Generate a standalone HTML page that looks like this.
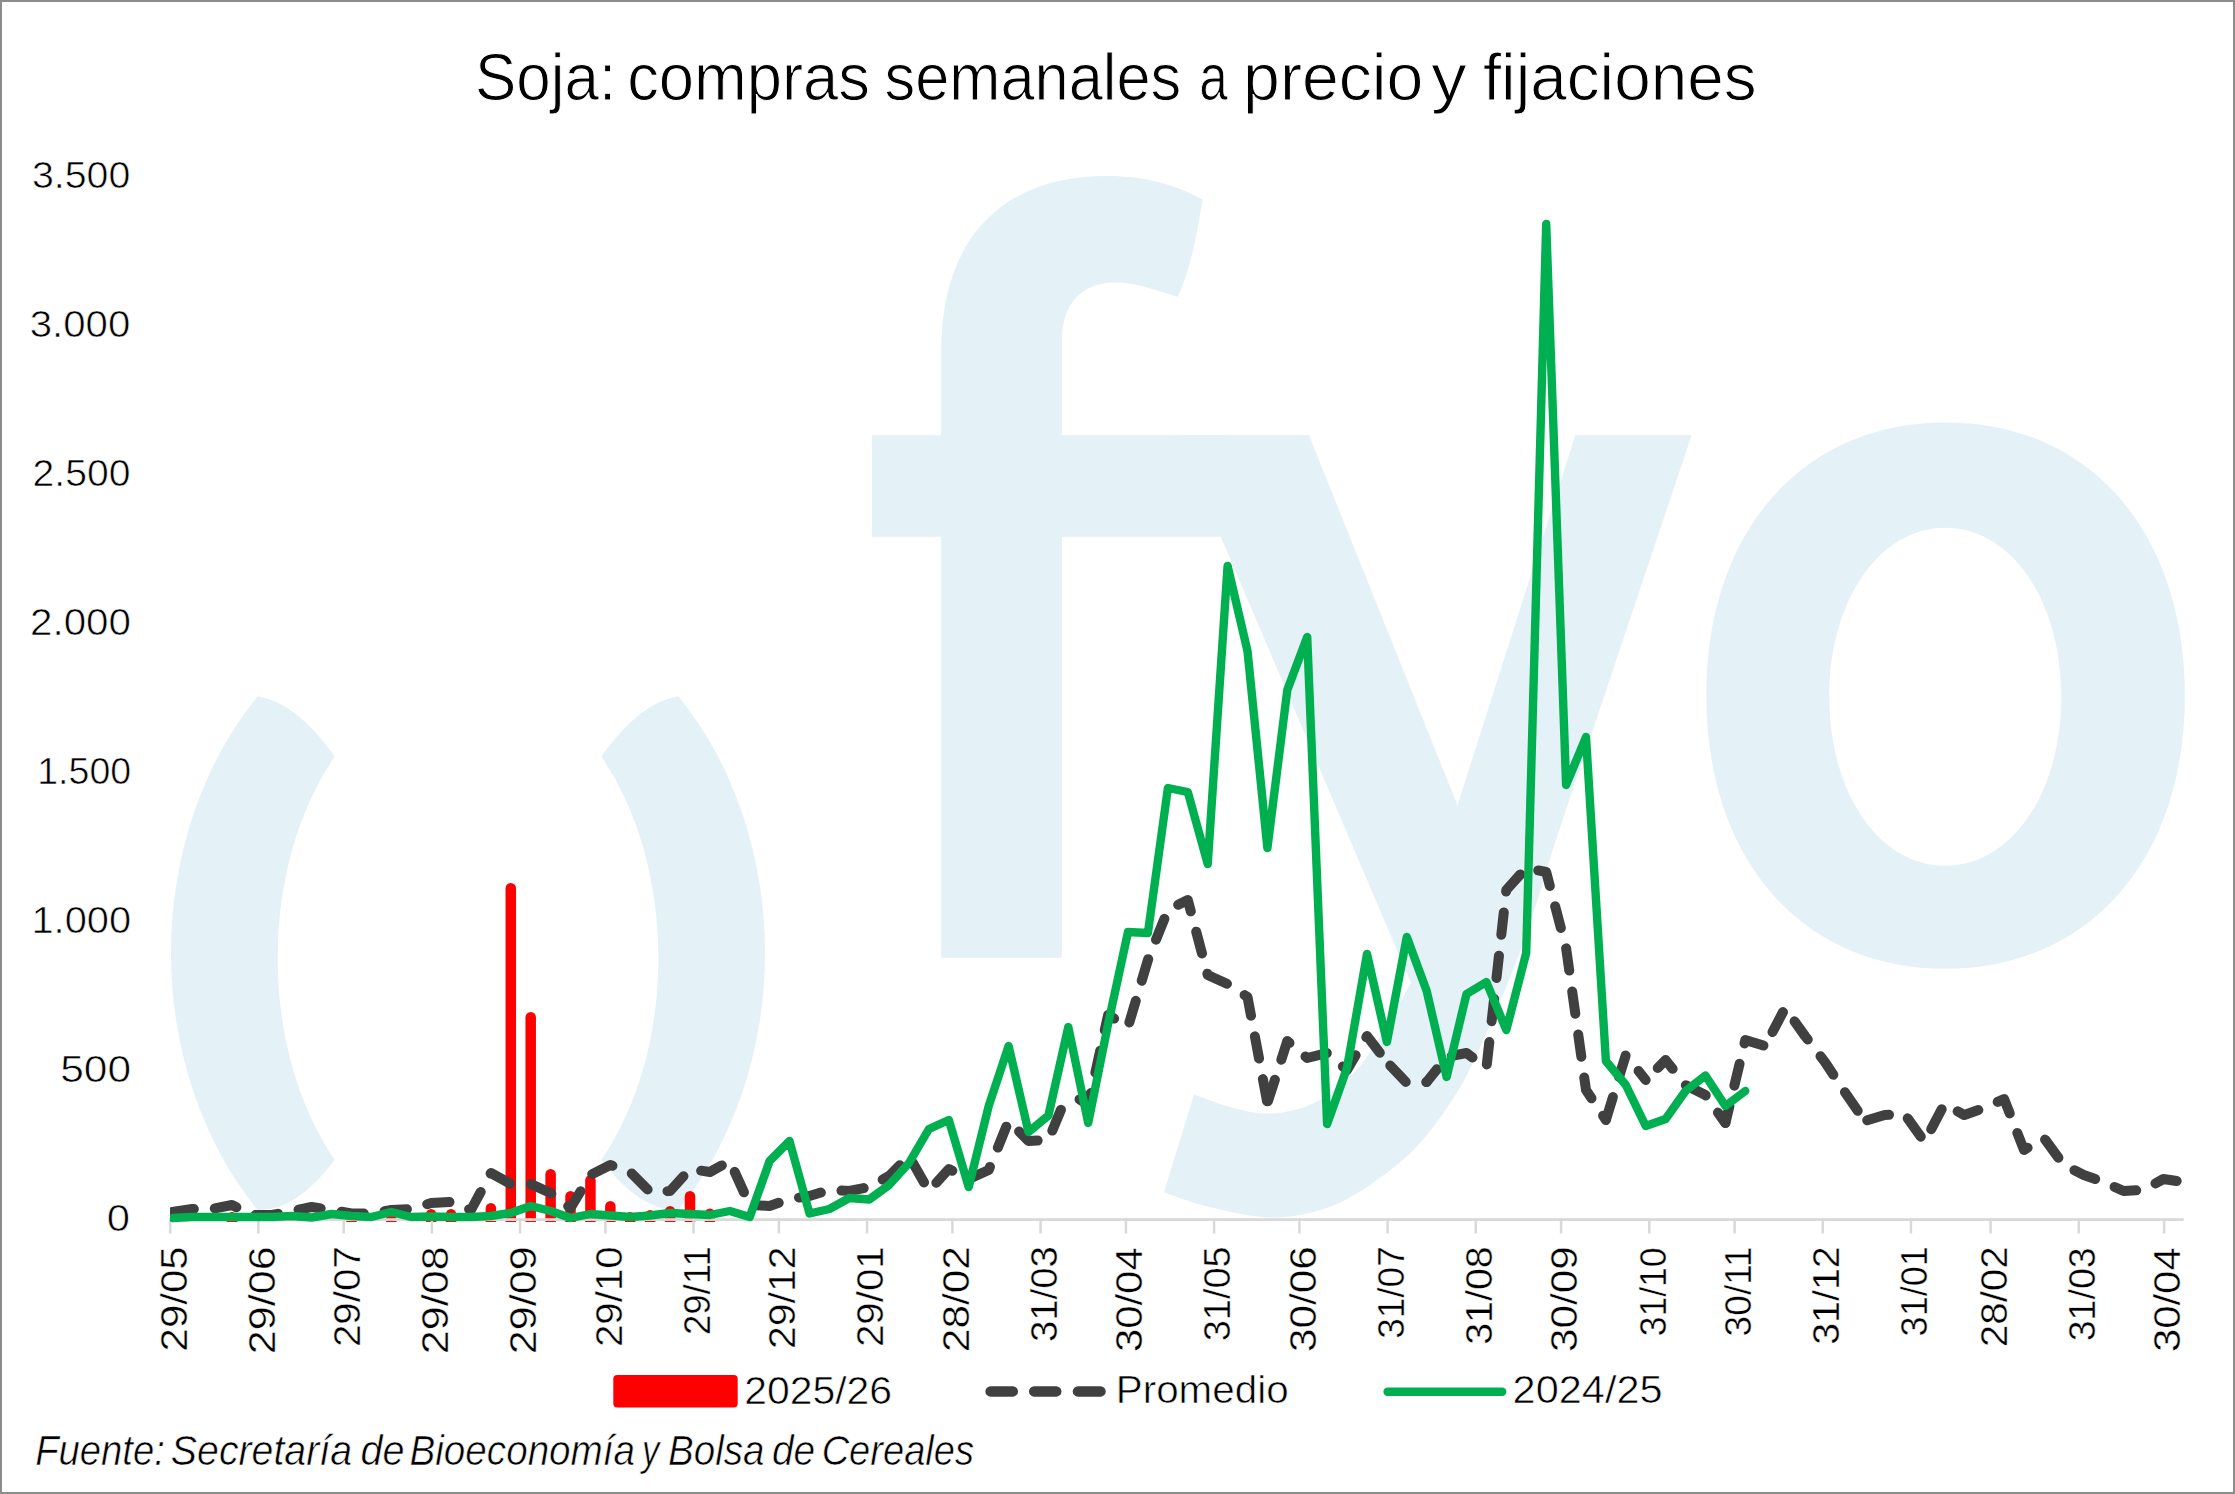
<!DOCTYPE html>
<html><head><meta charset="utf-8"><title>Soja: compras semanales a precio y fijaciones</title>
<style>html,body{margin:0;padding:0;background:#fff;width:2235px;height:1494px;overflow:hidden}svg{display:block}</style>
</head><body>
<svg width="2235" height="1494" viewBox="0 0 2235 1494">
<defs><clipPath id="pc"><rect x="170" y="150" width="2013.7" height="1090"/></clipPath></defs>
<rect x="0" y="0" width="2235" height="1494" fill="#ffffff"/>
<path fill="#e4f1f6" d="M257.6,696.2 Q296,702 334.7,756.4 A190.3,282.5 0 0 0 334.7,1159.9 Q296,1211 257.6,1210 A297,364 0 0 1 257.6,696.2 Z"/>
<path fill="#e4f1f6" d="M678.4,696.2 Q640,702 601.3,756.4 A190.3,282.5 0 0 1 601.3,1159.9 Q640,1211 678.4,1210 A297,364 0 0 0 678.4,696.2 Z"/>
<path fill="#e4f1f6" d="M941.1,957.7 L941.1,536.8 L871.9,536.8 L871.9,435.3 L941.1,435.3 L941.1,353 C941.1,240 1000,176 1107.9,176.1 C1145,176.1 1175,185 1202.5,199.4 C1196,240 1190,270 1177.8,296.8 C1155,290 1135,282.5 1116.1,282.5 C1080,282.5 1061.8,305 1061.8,342 L1061.8,435.3 L1230,435.3 L1230,536.8 L1061.8,536.8 L1061.8,957.7 Z"/>
<path fill="#e4f1f6" d="M1177.6,435.3 L1309,435.3 L1457.5,805.3 L1575.3,435.3 L1691.6,435.3 L1552.6,850 C1550.6,856.7 1545.9,873.5 1540.6,890.2 C1535.2,906.9 1527.2,932.0 1520.5,950.4 C1513.8,968.8 1507.1,984.5 1500.4,1000.6 C1493.7,1016.7 1487.0,1032.4 1480.3,1046.8 C1473.6,1061.2 1468.6,1073.0 1460.2,1087.0 C1451.8,1101.0 1440.5,1118.3 1430.1,1131.1 C1419.7,1143.9 1413.2,1152.0 1398.0,1164.0 C1382.8,1176.0 1359.3,1194.1 1339.0,1203.0 C1318.7,1211.9 1297.2,1216.7 1276.3,1217.5 C1255.4,1218.3 1232.4,1212.2 1213.7,1208.0 C1195.0,1203.8 1172.2,1195.0 1163.9,1192.4 L1194,1094.4 C1200.3,1096.6 1219.4,1104.2 1231.6,1107.4 C1243.8,1110.6 1255.5,1113.6 1267.4,1113.6 C1279.3,1113.6 1292.8,1110.8 1303.2,1107.4 C1313.6,1104.0 1321.0,1099.3 1330.0,1093.0 C1339.0,1086.7 1349.4,1077.8 1356.9,1069.8 C1364.4,1061.8 1369.1,1053.4 1374.8,1044.7 C1380.5,1036.0 1384.9,1028.2 1390.9,1017.9 C1396.9,1007.6 1407.7,988.8 1411.0,983.0 Z"/>
<path fill="#e4f1f6" fill-rule="evenodd" d="M1945.6,422.4 C2089.2,422.4 2184.9,531.7 2184.9,695.6 C2184.9,859.5 2089.2,968.8 1945.6,968.8 C1802.0,968.8 1706.3,859.5 1706.3,695.6 C1706.3,531.7 1802.0,422.4 1945.6,422.4 Z M1945.3,527.8 C2011.4,527.8 2061.3,600.5 2061.3,696.8 C2061.3,793.1 2011.4,865.8 1945.3,865.8 C1879.2,865.8 1829.3,793.1 1829.3,696.8 C1829.3,600.5 1879.2,527.8 1945.3,527.8 Z"/>
<path fill="#ff0000" d="M226.78,1222 L226.78,1217.25 A5.25,5.25 0 0 1 237.28,1217.25 L237.28,1222 Z"/>
<path fill="#ff0000" d="M346.25,1222 L346.25,1219.25 A5.25,5.25 0 0 1 356.75,1219.25 L356.75,1222 Z"/>
<path fill="#ff0000" d="M386.07,1222 L386.07,1219.25 A5.25,5.25 0 0 1 396.57,1219.25 L396.57,1222 Z"/>
<path fill="#ff0000" d="M425.89,1222 L425.89,1214.25 A5.25,5.25 0 0 1 436.39,1214.25 L436.39,1222 Z"/>
<path fill="#ff0000" d="M445.80,1222 L445.80,1214.25 A5.25,5.25 0 0 1 456.30,1214.25 L456.30,1222 Z"/>
<path fill="#ff0000" d="M485.63,1222 L485.63,1208.25 A5.25,5.25 0 0 1 496.13,1208.25 L496.13,1222 Z"/>
<path fill="#ff0000" d="M505.54,1222 L505.54,888.25 A5.25,5.25 0 0 1 516.04,888.25 L516.04,1222 Z"/>
<path fill="#ff0000" d="M525.45,1222 L525.45,1017.25 A5.25,5.25 0 0 1 535.95,1017.25 L535.95,1222 Z"/>
<path fill="#ff0000" d="M545.36,1222 L545.36,1174.25 A5.25,5.25 0 0 1 555.86,1174.25 L555.86,1222 Z"/>
<path fill="#ff0000" d="M565.27,1222 L565.27,1196.25 A5.25,5.25 0 0 1 575.77,1196.25 L575.77,1222 Z"/>
<path fill="#ff0000" d="M585.18,1222 L585.18,1180.25 A5.25,5.25 0 0 1 595.68,1180.25 L595.68,1222 Z"/>
<path fill="#ff0000" d="M605.09,1222 L605.09,1206.25 A5.25,5.25 0 0 1 615.59,1206.25 L615.59,1222 Z"/>
<path fill="#ff0000" d="M625.00,1222 L625.00,1217.25 A5.25,5.25 0 0 1 635.50,1217.25 L635.50,1222 Z"/>
<path fill="#ff0000" d="M644.91,1222 L644.91,1215.25 A5.25,5.25 0 0 1 655.41,1215.25 L655.41,1222 Z"/>
<path fill="#ff0000" d="M664.83,1222 L664.83,1211.25 A5.25,5.25 0 0 1 675.33,1211.25 L675.33,1222 Z"/>
<path fill="#ff0000" d="M684.74,1222 L684.74,1196.25 A5.25,5.25 0 0 1 695.24,1196.25 L695.24,1222 Z"/>
<path fill="#ff0000" d="M704.65,1222 L704.65,1213.75 A5.25,5.25 0 0 1 715.15,1213.75 L715.15,1222 Z"/>
<g fill="#d9d9d9">
<rect x="169" y="1218.2" width="2014.7" height="2.8"/>
<rect x="168.95" y="1218.2" width="2.5" height="15.3"/>
<rect x="257.13" y="1218.2" width="2.5" height="15.3"/>
<rect x="342.46" y="1218.2" width="2.5" height="15.3"/>
<rect x="430.63" y="1218.2" width="2.5" height="15.3"/>
<rect x="518.81" y="1218.2" width="2.5" height="15.3"/>
<rect x="604.14" y="1218.2" width="2.5" height="15.3"/>
<rect x="692.31" y="1218.2" width="2.5" height="15.3"/>
<rect x="777.64" y="1218.2" width="2.5" height="15.3"/>
<rect x="865.82" y="1218.2" width="2.5" height="15.3"/>
<rect x="951.15" y="1218.2" width="2.5" height="15.3"/>
<rect x="1039.33" y="1218.2" width="2.5" height="15.3"/>
<rect x="1124.66" y="1218.2" width="2.5" height="15.3"/>
<rect x="1212.83" y="1218.2" width="2.5" height="15.3"/>
<rect x="1298.16" y="1218.2" width="2.5" height="15.3"/>
<rect x="1386.34" y="1218.2" width="2.5" height="15.3"/>
<rect x="1474.51" y="1218.2" width="2.5" height="15.3"/>
<rect x="1559.84" y="1218.2" width="2.5" height="15.3"/>
<rect x="1648.02" y="1218.2" width="2.5" height="15.3"/>
<rect x="1733.35" y="1218.2" width="2.5" height="15.3"/>
<rect x="1821.53" y="1218.2" width="2.5" height="15.3"/>
<rect x="1909.70" y="1218.2" width="2.5" height="15.3"/>
<rect x="1989.34" y="1218.2" width="2.5" height="15.3"/>
<rect x="2077.52" y="1218.2" width="2.5" height="15.3"/>
<rect x="2162.85" y="1218.2" width="2.5" height="15.3"/>
</g>
<g clip-path="url(#pc)" fill="none" stroke="#404040" stroke-width="10" stroke-linecap="round" stroke-linejoin="round" stroke-dasharray="22.5 21">
<polyline stroke-dashoffset="0.73" points="172.3,1212.0 192.2,1209.0 212.1,1209.0 232.0,1205.0 251.9,1215.0 271.9,1215.0 291.8,1211.0 311.7,1207.0 331.6,1210.0 351.5,1213.5 371.4,1213.5 391.3,1210.0 411.2,1209.0 431.1,1203.0 451.1,1202.0 471.0,1210.0 490.9,1173.0 510.8,1184.0 530.7,1184.0 550.6,1193.0 570.5,1208.0 590.4,1175.0 610.3,1165.0 630.3,1172.0 650.2,1192.0 670.1,1191.0 690.0,1169.0 709.9,1172.0 729.8,1161.0 749.7,1205.0 769.6,1206.0 789.5,1199.0 809.5,1196.0 829.4,1190.0 849.3,1191.0 869.2,1187.0 889.1,1176.0 909.0,1156.0 928.9,1191.0 948.8,1169.0 968.7,1179.0 988.7,1170.0 1008.6,1121.0 1028.5,1141.0 1048.4,1140.0 1068.3,1092.0"/>
<polyline stroke-dashoffset="30.06" points="1068.3,1092.0 1088.2,1105.0 1108.1,1015.0 1128.0,1027.0 1147.9,960.0 1167.9,910.0 1187.8,900.0 1207.7,975.0 1227.6,984.0 1247.5,997.0 1267.4,1103.0"/>
<polyline stroke-dashoffset="41.49" points="1267.4,1103.0 1287.3,1041.0 1307.2,1058.0 1327.1,1053.0 1347.0,1070.0 1367.0,1036.0 1386.9,1062.0"/>
<polyline stroke-dashoffset="38.58" points="1386.9,1062.0 1406.8,1083.0 1426.7,1082.0"/>
<polyline stroke-dashoffset="6.26" points="1426.7,1082.0 1446.6,1057.0 1466.5,1053.0 1486.4,1068.0 1506.3,890.0 1526.2,868.0 1546.2,872.0 1566.1,948.0 1586.0,1090.0 1605.9,1120.0"/>
<polyline stroke-dashoffset="42.06" points="1605.9,1120.0 1625.8,1055.0 1645.7,1080.0"/>
<polyline stroke-dashoffset="26.47" points="1645.7,1080.0 1665.6,1060.0 1685.5,1085.0 1705.4,1095.0 1725.4,1123.0"/>
<polyline stroke-dashoffset="5.20" points="1725.4,1123.0 1745.3,1040.0 1765.2,1046.0"/>
<polyline stroke-dashoffset="27.75" points="1765.2,1046.0 1785.1,1008.0 1805.0,1036.0 1824.9,1062.0 1844.8,1092.0 1864.7,1121.0"/>
<polyline stroke-dashoffset="40.82" points="1864.7,1121.0 1884.6,1115.0 1904.6,1114.0 1924.5,1142.0 1944.4,1104.0 1964.3,1115.0 1984.2,1108.0 2004.1,1099.0 2024.0,1150.0 2043.9,1138.0 2063.8,1165.0 2083.8,1175.0 2103.7,1182.0 2123.6,1191.0 2143.5,1190.0 2163.4,1179.0 2183.3,1182.0"/>
</g>
<polyline clip-path="url(#pc)" fill="none" stroke="#00b050" stroke-width="8.4" stroke-linejoin="round" stroke-linecap="round" points="172.3,1218.0 192.2,1217.0 212.1,1217.0 232.0,1217.0 251.9,1217.0 271.9,1217.0 291.8,1216.0 311.7,1217.5 331.6,1214.0 351.5,1216.0 371.4,1217.0 391.3,1212.0 411.2,1217.0 431.1,1216.5 451.1,1217.0 471.0,1217.0 490.9,1216.0 510.8,1213.0 530.7,1206.0 550.6,1211.0 570.5,1218.0 590.4,1214.0 610.3,1215.5 630.3,1217.0 650.2,1215.5 670.1,1213.0 690.0,1214.0 709.9,1215.0 729.8,1211.0 749.7,1217.0 769.6,1161.0 789.5,1141.0 809.5,1213.5 829.4,1209.0 849.3,1198.0 869.2,1199.5 889.1,1185.0 909.0,1163.0 928.9,1129.0 948.8,1120.0 968.7,1187.0 988.7,1106.0 1008.6,1046.0 1028.5,1132.0 1048.4,1115.5 1068.3,1027.0 1088.2,1123.0 1108.1,1024.0 1128.0,932.0 1147.9,933.0 1167.9,788.0 1187.8,792.0 1207.7,864.0 1227.6,566.0 1247.5,651.0 1267.4,848.0 1287.3,690.0 1307.2,637.0 1327.1,1124.0 1347.0,1068.0 1367.0,954.0 1386.9,1042.0 1406.8,937.0 1426.7,991.0 1446.6,1077.0 1466.5,994.0 1486.4,982.0 1506.3,1030.0 1526.2,953.0 1546.2,224.0 1566.1,785.0 1586.0,737.0 1605.9,1061.0 1625.8,1085.0 1645.7,1126.0 1665.6,1119.0 1685.5,1091.0 1705.4,1075.5 1725.4,1106.0 1745.3,1091.0"/>
<rect x="613.3" y="1375" width="124.4" height="32.6" rx="4" fill="#ff0000"/>
<g stroke="#404040" stroke-width="10.5" stroke-linecap="round">
<line x1="990.6" y1="1391.4" x2="1012.8" y2="1391.4"/>
<line x1="1034.2" y1="1391.4" x2="1056.2" y2="1391.4"/>
<line x1="1078.0" y1="1391.4" x2="1100.5" y2="1391.4"/>
</g>
<line x1="1387.6" y1="1391.8" x2="1502.2" y2="1391.8" stroke="#00b050" stroke-width="8.4" stroke-linecap="round"/>
<text x="474.96" y="99.5" font-family='"Liberation Sans", sans-serif' font-size="67" fill="#000" stroke="#ffffff" stroke-width="1.0" textLength="141.14" lengthAdjust="spacingAndGlyphs">Soja:</text>
<text x="627.21" y="99.5" font-family='"Liberation Sans", sans-serif' font-size="67" fill="#000" stroke="#ffffff" stroke-width="1.0" textLength="242.78" lengthAdjust="spacingAndGlyphs">compras</text>
<text x="884.45" y="99.5" font-family='"Liberation Sans", sans-serif' font-size="67" fill="#000" stroke="#ffffff" stroke-width="1.0" textLength="296.81" lengthAdjust="spacingAndGlyphs">semanales</text>
<text x="1199.28" y="99.5" font-family='"Liberation Sans", sans-serif' font-size="67" fill="#000" stroke="#ffffff" stroke-width="1.0" textLength="28.50" lengthAdjust="spacingAndGlyphs">a</text>
<text x="1243.10" y="99.5" font-family='"Liberation Sans", sans-serif' font-size="67" fill="#000" stroke="#ffffff" stroke-width="1.0" textLength="180.14" lengthAdjust="spacingAndGlyphs">precio</text>
<text x="1431.37" y="99.5" font-family='"Liberation Sans", sans-serif' font-size="67" fill="#000" stroke="#ffffff" stroke-width="1.0" textLength="35.35" lengthAdjust="spacingAndGlyphs">y</text>
<text x="1482.88" y="99.5" font-family='"Liberation Sans", sans-serif' font-size="67" fill="#000" stroke="#ffffff" stroke-width="1.0" textLength="273.66" lengthAdjust="spacingAndGlyphs">fijaciones</text>
<text x="106.79" y="1230.8" font-family='"Liberation Sans", sans-serif' font-size="36" fill="#000" stroke="#ffffff" stroke-width="0.6" textLength="23.28" lengthAdjust="spacingAndGlyphs">0</text>
<text x="60.22" y="1081.8" font-family='"Liberation Sans", sans-serif' font-size="36" fill="#000" stroke="#ffffff" stroke-width="0.6" textLength="70.91" lengthAdjust="spacingAndGlyphs">500</text>
<text x="31.46" y="932.8" font-family='"Liberation Sans", sans-serif' font-size="36" fill="#000" stroke="#ffffff" stroke-width="0.6" textLength="99.67" lengthAdjust="spacingAndGlyphs">1.000</text>
<text x="37.28" y="783.8" font-family='"Liberation Sans", sans-serif' font-size="36" fill="#000" stroke="#ffffff" stroke-width="0.6" textLength="93.84" lengthAdjust="spacingAndGlyphs">1.500</text>
<text x="30.02" y="634.8" font-family='"Liberation Sans", sans-serif' font-size="36" fill="#000" stroke="#ffffff" stroke-width="0.6" textLength="100.97" lengthAdjust="spacingAndGlyphs">2.000</text>
<text x="32.57" y="485.79999999999995" font-family='"Liberation Sans", sans-serif' font-size="36" fill="#000" stroke="#ffffff" stroke-width="0.6" textLength="97.82" lengthAdjust="spacingAndGlyphs">2.500</text>
<text x="29.68" y="336.79999999999995" font-family='"Liberation Sans", sans-serif' font-size="36" fill="#000" stroke="#ffffff" stroke-width="0.6" textLength="100.60" lengthAdjust="spacingAndGlyphs">3.000</text>
<text x="31.93" y="187.79999999999995" font-family='"Liberation Sans", sans-serif' font-size="36" fill="#000" stroke="#ffffff" stroke-width="0.6" textLength="98.35" lengthAdjust="spacingAndGlyphs">3.500</text>
<text transform="translate(186.50,1351.44) rotate(-90)" x="0" y="0" font-family='"Liberation Sans", sans-serif' font-size="36" fill="#000" stroke="#ffffff" stroke-width="0.4" textLength="105.17" lengthAdjust="spacingAndGlyphs">29/05</text>
<text transform="translate(274.68,1354.14) rotate(-90)" x="0" y="0" font-family='"Liberation Sans", sans-serif' font-size="36" fill="#000" stroke="#ffffff" stroke-width="0.4" textLength="107.86" lengthAdjust="spacingAndGlyphs">29/06</text>
<text transform="translate(360.01,1347.10) rotate(-90)" x="0" y="0" font-family='"Liberation Sans", sans-serif' font-size="36" fill="#000" stroke="#ffffff" stroke-width="0.4" textLength="100.82" lengthAdjust="spacingAndGlyphs">29/07</text>
<text transform="translate(448.18,1354.14) rotate(-90)" x="0" y="0" font-family='"Liberation Sans", sans-serif' font-size="36" fill="#000" stroke="#ffffff" stroke-width="0.4" textLength="107.86" lengthAdjust="spacingAndGlyphs">29/08</text>
<text transform="translate(536.36,1354.14) rotate(-90)" x="0" y="0" font-family='"Liberation Sans", sans-serif' font-size="36" fill="#000" stroke="#ffffff" stroke-width="0.4" textLength="107.85" lengthAdjust="spacingAndGlyphs">29/09</text>
<text transform="translate(621.69,1347.09) rotate(-90)" x="0" y="0" font-family='"Liberation Sans", sans-serif' font-size="36" fill="#000" stroke="#ffffff" stroke-width="0.4" textLength="100.81" lengthAdjust="spacingAndGlyphs">29/10</text>
<text transform="translate(709.86,1335.11) rotate(-90)" x="0" y="0" font-family='"Liberation Sans", sans-serif' font-size="36" fill="#000" stroke="#ffffff" stroke-width="0.4" textLength="88.85" lengthAdjust="spacingAndGlyphs">29/11</text>
<text transform="translate(795.19,1349.12) rotate(-90)" x="0" y="0" font-family='"Liberation Sans", sans-serif' font-size="36" fill="#000" stroke="#ffffff" stroke-width="0.4" textLength="102.85" lengthAdjust="spacingAndGlyphs">29/12</text>
<text transform="translate(883.37,1347.09) rotate(-90)" x="0" y="0" font-family='"Liberation Sans", sans-serif' font-size="36" fill="#000" stroke="#ffffff" stroke-width="0.4" textLength="100.81" lengthAdjust="spacingAndGlyphs">29/01</text>
<text transform="translate(968.70,1352.14) rotate(-90)" x="0" y="0" font-family='"Liberation Sans", sans-serif' font-size="36" fill="#000" stroke="#ffffff" stroke-width="0.4" textLength="105.85" lengthAdjust="spacingAndGlyphs">28/02</text>
<text transform="translate(1056.88,1342.10) rotate(-90)" x="0" y="0" font-family='"Liberation Sans", sans-serif' font-size="36" fill="#000" stroke="#ffffff" stroke-width="0.4" textLength="95.82" lengthAdjust="spacingAndGlyphs">31/03</text>
<text transform="translate(1142.21,1352.09) rotate(-90)" x="0" y="0" font-family='"Liberation Sans", sans-serif' font-size="36" fill="#000" stroke="#ffffff" stroke-width="0.4" textLength="104.76" lengthAdjust="spacingAndGlyphs">30/04</text>
<text transform="translate(1230.38,1341.28) rotate(-90)" x="0" y="0" font-family='"Liberation Sans", sans-serif' font-size="36" fill="#000" stroke="#ffffff" stroke-width="0.4" textLength="94.95" lengthAdjust="spacingAndGlyphs">31/05</text>
<text transform="translate(1315.71,1352.10) rotate(-90)" x="0" y="0" font-family='"Liberation Sans", sans-serif' font-size="36" fill="#000" stroke="#ffffff" stroke-width="0.4" textLength="105.82" lengthAdjust="spacingAndGlyphs">30/06</text>
<text transform="translate(1403.89,1338.81) rotate(-90)" x="0" y="0" font-family='"Liberation Sans", sans-serif' font-size="36" fill="#000" stroke="#ffffff" stroke-width="0.4" textLength="92.53" lengthAdjust="spacingAndGlyphs">31/07</text>
<text transform="translate(1492.06,1344.83) rotate(-90)" x="0" y="0" font-family='"Liberation Sans", sans-serif' font-size="36" fill="#000" stroke="#ffffff" stroke-width="0.4" textLength="98.57" lengthAdjust="spacingAndGlyphs">31/08</text>
<text transform="translate(1577.39,1352.10) rotate(-90)" x="0" y="0" font-family='"Liberation Sans", sans-serif' font-size="36" fill="#000" stroke="#ffffff" stroke-width="0.4" textLength="105.83" lengthAdjust="spacingAndGlyphs">30/09</text>
<text transform="translate(1665.57,1336.37) rotate(-90)" x="0" y="0" font-family='"Liberation Sans", sans-serif' font-size="36" fill="#000" stroke="#ffffff" stroke-width="0.4" textLength="89.03" lengthAdjust="spacingAndGlyphs">31/10</text>
<text transform="translate(1750.90,1336.39) rotate(-90)" x="0" y="0" font-family='"Liberation Sans", sans-serif' font-size="36" fill="#000" stroke="#ffffff" stroke-width="0.4" textLength="90.11" lengthAdjust="spacingAndGlyphs">30/11</text>
<text transform="translate(1839.08,1344.83) rotate(-90)" x="0" y="0" font-family='"Liberation Sans", sans-serif' font-size="36" fill="#000" stroke="#ffffff" stroke-width="0.4" textLength="98.56" lengthAdjust="spacingAndGlyphs">31/12</text>
<text transform="translate(1927.25,1336.39) rotate(-90)" x="0" y="0" font-family='"Liberation Sans", sans-serif' font-size="36" fill="#000" stroke="#ffffff" stroke-width="0.4" textLength="90.12" lengthAdjust="spacingAndGlyphs">31/01</text>
<text transform="translate(2006.89,1347.21) rotate(-90)" x="0" y="0" font-family='"Liberation Sans", sans-serif' font-size="36" fill="#000" stroke="#ffffff" stroke-width="0.4" textLength="100.96" lengthAdjust="spacingAndGlyphs">28/02</text>
<text transform="translate(2095.07,1341.26) rotate(-90)" x="0" y="0" font-family='"Liberation Sans", sans-serif' font-size="36" fill="#000" stroke="#ffffff" stroke-width="0.4" textLength="93.95" lengthAdjust="spacingAndGlyphs">31/03</text>
<text transform="translate(2180.40,1352.09) rotate(-90)" x="0" y="0" font-family='"Liberation Sans", sans-serif' font-size="36" fill="#000" stroke="#ffffff" stroke-width="0.4" textLength="104.76" lengthAdjust="spacingAndGlyphs">30/04</text>
<text x="744.22" y="1403.5" font-family='"Liberation Sans", sans-serif' font-size="38.5" fill="#000" stroke="#ffffff" stroke-width="0.6" textLength="147.84" lengthAdjust="spacingAndGlyphs">2025/26</text>
<text x="1115.77" y="1402.7" font-family='"Liberation Sans", sans-serif' font-size="38.5" fill="#000" stroke="#ffffff" stroke-width="0.6" textLength="172.88" lengthAdjust="spacingAndGlyphs">Promedio</text>
<text x="1512.61" y="1403" font-family='"Liberation Sans", sans-serif' font-size="38.5" fill="#000" stroke="#ffffff" stroke-width="0.6" textLength="149.95" lengthAdjust="spacingAndGlyphs">2024/25</text>
<text x="35.13" y="1464.8" font-family='"Liberation Sans", sans-serif' font-size="42" font-style="italic" fill="#000" stroke="#ffffff" stroke-width="0.6" textLength="129.73" lengthAdjust="spacingAndGlyphs">Fuente:</text>
<text x="170.86" y="1464.8" font-family='"Liberation Sans", sans-serif' font-size="42" font-style="italic" fill="#000" stroke="#ffffff" stroke-width="0.6" textLength="181.17" lengthAdjust="spacingAndGlyphs">Secretaría</text>
<text x="360.53" y="1464.8" font-family='"Liberation Sans", sans-serif' font-size="42" font-style="italic" fill="#000" stroke="#ffffff" stroke-width="0.6" textLength="44.02" lengthAdjust="spacingAndGlyphs">de</text>
<text x="409.47" y="1464.8" font-family='"Liberation Sans", sans-serif' font-size="42" font-style="italic" fill="#000" stroke="#ffffff" stroke-width="0.6" textLength="225.57" lengthAdjust="spacingAndGlyphs">Bioeconomía</text>
<text x="641.98" y="1464.8" font-family='"Liberation Sans", sans-serif' font-size="42" font-style="italic" fill="#000" stroke="#ffffff" stroke-width="0.6" textLength="17.37" lengthAdjust="spacingAndGlyphs">y</text>
<text x="668.02" y="1464.8" font-family='"Liberation Sans", sans-serif' font-size="42" font-style="italic" fill="#000" stroke="#ffffff" stroke-width="0.6" textLength="96.36" lengthAdjust="spacingAndGlyphs">Bolsa</text>
<text x="771.89" y="1464.8" font-family='"Liberation Sans", sans-serif' font-size="42" font-style="italic" fill="#000" stroke="#ffffff" stroke-width="0.6" textLength="43.24" lengthAdjust="spacingAndGlyphs">de</text>
<text x="821.63" y="1464.8" font-family='"Liberation Sans", sans-serif' font-size="42" font-style="italic" fill="#000" stroke="#ffffff" stroke-width="0.6" textLength="152.40" lengthAdjust="spacingAndGlyphs">Cereales</text>
<rect x="1" y="1" width="2233" height="1492" fill="none" stroke="#8c8c8c" stroke-width="2"/>
</svg>
</body></html>
